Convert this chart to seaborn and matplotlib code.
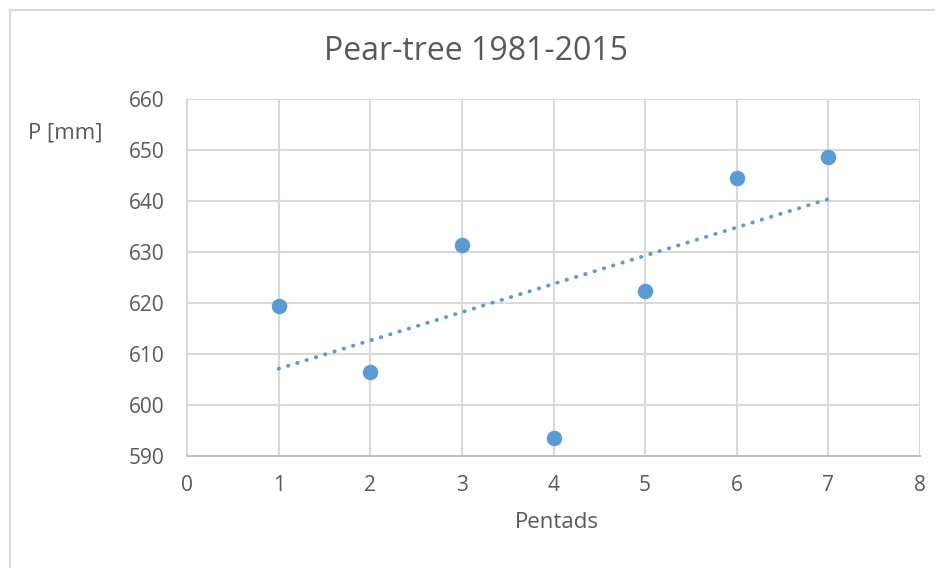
import pandas as pd
import seaborn as sns
import matplotlib
matplotlib.use("Agg")
import matplotlib.pyplot as plt
from matplotlib.patches import Rectangle

# values
pentads = [1, 2, 3, 4, 5, 6, 7]
precip = [619.4, 606.4, 631.3, 593.5, 622.4, 644.5, 648.7]
x_ticks = [0, 1, 2, 3, 4, 5, 6, 7, 8]
y_ticks = [590, 600, 610, 620, 630, 640, 650, 660]

blue = "#5B9BD5"
grey_text = "#595959"
grid_col = "#D9D9D9"

sns.set_style("white")
plt.rcParams['font.family'] = ['Open Sans', 'DejaVu Sans']

df = pd.DataFrame({"Pentads": pentads, "P": precip})

fig = plt.figure(figsize=(9.35, 5.68), dpi=100)
ax = fig.add_axes([187 / 935, 1 - 456 / 568, (920 - 187) / 935, (456 - 99) / 568])

# outer chart border
fig.patches.append(Rectangle((10 / 935, -0.01), 1.0, 1.0 - 10 / 568 + 0.01,
                             transform=fig.transFigure, fill=False,
                             edgecolor="#D9D9D9", linewidth=1.5))

sns.regplot(x="Pentads", y="P", data=df, ci=None, ax=ax,
            scatter_kws={"s": 125, "color": blue, "alpha": 1, "linewidths": 0, "zorder": 3},
            line_kws={"color": blue, "linewidth": 2.8, "linestyle": (0, (0.1, 2.4)),
                      "dash_capstyle": "round", "zorder": 2})

ax.set_xlim(0, 8)
ax.set_ylim(590, 660)
ax.set_xticks(x_ticks)
ax.set_yticks(y_ticks)
ax.grid(True, color=grid_col, linewidth=1.5)
ax.set_axisbelow(True)
for side in ["top", "right"]:
    ax.spines[side].set_visible(False)
ax.spines["left"].set_color(grid_col)
ax.spines["left"].set_linewidth(1.5)
ax.spines["bottom"].set_color("#BFBFBF")
ax.spines["bottom"].set_linewidth(1.5)
ax.tick_params(axis="both", length=0, labelsize=15, colors=grey_text)
ax.tick_params(axis="x", pad=14)
ax.tick_params(axis="y", pad=16)

ax.set_xlabel("")
ax.set_ylabel("")
fig.text(557 / 935, 1 - 523 / 568, "Pentads", ha="center", va="center",
         fontsize=16, color=grey_text)
fig.text(65 / 935, 1 - 133 / 568, "P [mm]", ha="center", va="center",
         fontsize=16, color=grey_text)
fig.text(476 / 935, 1 - 52 / 568, "Pear-tree 1981-2015", ha="center", va="center",
         fontsize=23, color=grey_text)

plt.savefig("out.png", dpi=100)
